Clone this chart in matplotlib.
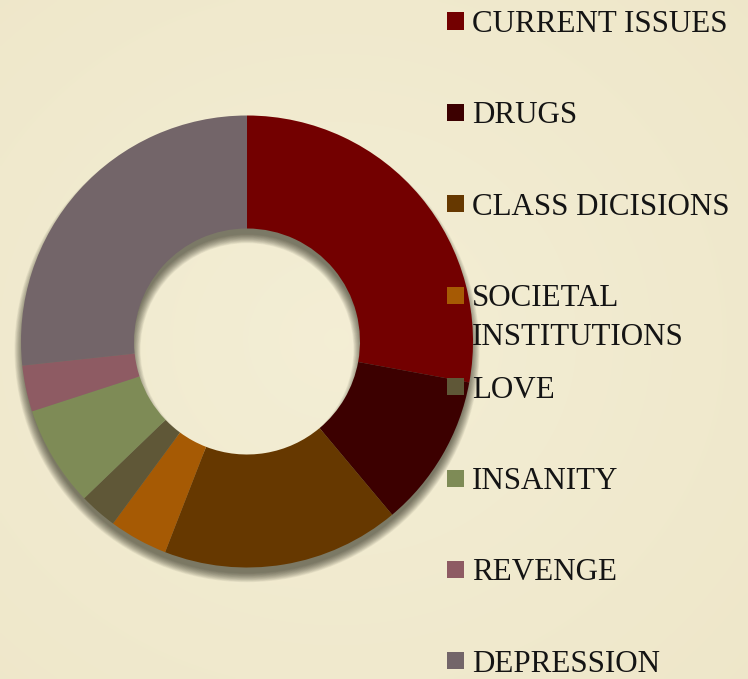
import matplotlib.pyplot as plt
from matplotlib.patches import Wedge, Rectangle
import numpy as np

labels = ["CURRENT ISSUES", "DRUGS", "CLASS DICISIONS", "SOCIETAL\nINSTITUTIONS",
          "LOVE", "INSANITY", "REVENGE", "DEPRESSION"]
values = [27.9, 11.0, 17.0, 4.2, 2.7, 7.2, 3.3, 26.7]
colors = ["#730000", "#3C0000", "#663800", "#A65A04",
          "#5F5737", "#7E8B56", "#8E5B63", "#736569"]

W, H = 748, 679
fig = plt.figure(figsize=(W / 100, H / 100), dpi=100)
fig.patch.set_facecolor("#F2ECD2")

# parchment-ish background: very soft vignette
bg = fig.add_axes([0, 0, 1, 1])
yy, xx = np.mgrid[0:1:200j, 0:1:220j]
d = np.sqrt((xx - 0.45) ** 2 + (yy - 0.5) ** 2)
c0 = np.array([0.955, 0.934, 0.835])
c1 = np.array([0.935, 0.905, 0.790])
t = np.clip(d / 0.75, 0, 1)[..., None]
bg.imshow(c0 * (1 - t) + c1 * t, extent=[0, 1, 0, 1], aspect="auto", interpolation="bilinear")
bg.set_axis_off()

# donut
cx, cy, r = 247, 341.5, 226
m = 1.1
ax = fig.add_axes([(cx - r * m) / W, (H - cy - r * m) / H, 2 * r * m / W, 2 * r * m / H])
ax.set_axis_off()

# soft drop shadow under the ring (offset downward)
for k in range(14):
    grow = 0.003 * k
    ax.add_patch(Wedge((0, -0.036), 0.99 + grow, 0, 360, width=0.48 + 2 * grow,
                       facecolor="#2b2a1c", edgecolor="none", alpha=0.06))

ax.pie(values, colors=colors, startangle=90, counterclock=False, radius=1.0,
       wedgeprops=dict(width=0.5, edgecolor="none"))
ax.set_xlim(-m, m)
ax.set_ylim(-m, m)

# legend drawn by hand (equal row spacing, multi-line entry grows downward)
for i, (lab, col) in enumerate(zip(labels, colors)):
    yc = 21 + 91.4 * i
    fig.patches.append(Rectangle((447 / W, (H - yc - 8.5) / H), 17 / W, 17 / H,
                                 transform=fig.transFigure, facecolor=col, edgecolor="none"))
    for j, line in enumerate(lab.split("\n")):
        base = yc + 11 + 38.5 * j
        fig.text(472 / W, (H - base) / H, line, family="Liberation Serif", fontsize=22.3,
                 color="#141414", ha="left", va="baseline")

fig.savefig("out.png", dpi=100, facecolor=fig.get_facecolor())
